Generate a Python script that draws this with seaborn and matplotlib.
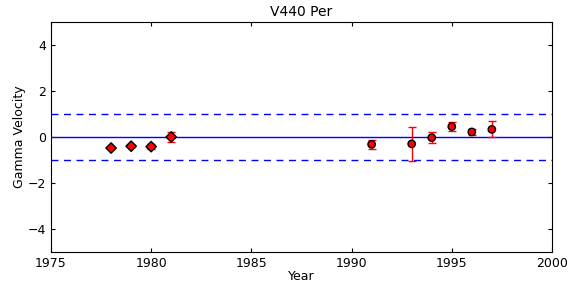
import numpy as np
import pandas as pd
import matplotlib
matplotlib.use('Agg')
import matplotlib.pyplot as plt
import seaborn as sns

# older (diamond) and newer (circle) measurements
years_old = [1978, 1979, 1980, 1981]
gamma_old = [-0.48, -0.40, -0.42, 0.00]
err_old   = [0.05, 0.05, 0.10, 0.22]

years_new = [1991, 1993, 1994, 1995, 1996, 1997]
gamma_new = [-0.32, -0.30, -0.03, 0.45, 0.22, 0.33]
err_new   = [0.20, 0.75, 0.25, 0.18, 0.12, 0.35]

sns.set_style('ticks')
plt.rcParams.update({
    'font.family': 'DejaVu Sans',
    'xtick.direction': 'in',
    'ytick.direction': 'in',
    'xtick.top': True,
    'ytick.right': True,
    'text.color': 'black',
    'axes.labelcolor': 'black',
    'axes.edgecolor': 'black',
    'xtick.color': 'black',
    'ytick.color': 'black',
})

df = pd.DataFrame({
    'Year': years_old + years_new,
    'Gamma': gamma_old + gamma_new,
    'Set': ['old'] * len(years_old) + ['new'] * len(years_new),
})

fig = plt.figure(figsize=(5.82, 2.89), dpi=100)
ax = fig.add_axes([0.0876, 0.128, 0.8608, 0.796])

ax.axhline(0, color='blue', linewidth=1)
ax.axhline(1, color='blue', linewidth=1, linestyle='--', dashes=(5, 4))
ax.axhline(-1, color='blue', linewidth=1, linestyle='--', dashes=(5, 4))

ax.errorbar(years_old, gamma_old, yerr=err_old, fmt='none', ecolor='red',
            elinewidth=1, capsize=3, zorder=3)
ax.errorbar(years_new, gamma_new, yerr=err_new, fmt='none', ecolor='red',
            elinewidth=1, capsize=3, zorder=3)

sns.scatterplot(data=df, x='Year', y='Gamma', style='Set',
                markers={'old': 'D', 'new': 'o'}, color='red',
                edgecolor='black', linewidth=1, s=28, legend=False,
                zorder=4, ax=ax)

ax.set_xlim(1975, 2000)
ax.set_ylim(-5, 5)
ax.set_xticks([1975, 1980, 1985, 1990, 1995, 2000])
ax.set_yticks([-4, -2, 0, 2, 4])
ax.tick_params(labelsize=9, length=3)
ax.set_xlabel('Year', fontsize=9, labelpad=0)
ax.set_ylabel('Gamma Velocity', fontsize=9, labelpad=1)
ax.set_title('V440 Per', fontsize=10, pad=4)

fig.savefig('out.png', dpi=100)
